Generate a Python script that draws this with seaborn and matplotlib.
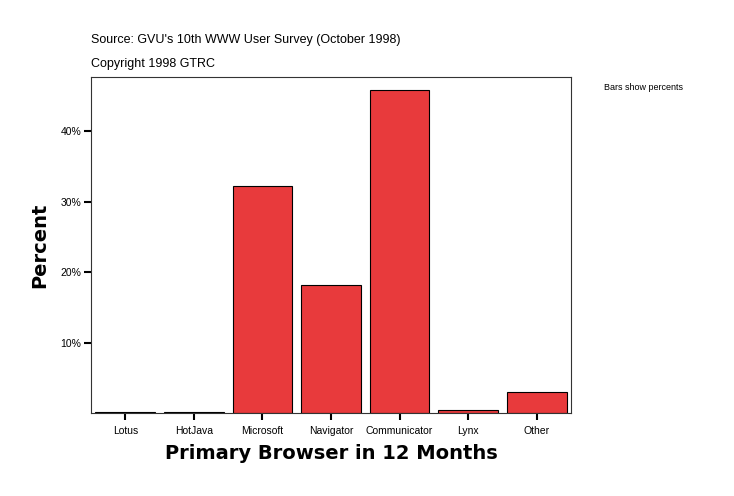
import matplotlib
matplotlib.use("Agg")
import matplotlib.pyplot as plt
import seaborn as sns
import pandas as pd

categories = ["Lotus", "HotJava", "Microsoft", "Navigator", "Communicator", "Lynx", "Other"]
percents = [0.15, 0.15, 32.2, 18.2, 45.9, 0.45, 3.0]
ytick_vals = [10, 20, 30, 40]
ytick_labels = ["10%", "20%", "30%", "40%"]

df = pd.DataFrame({"browser": categories, "pct": percents})

sns.set_style("white")
plt.rcParams["font.family"] = ["Liberation Sans", "DejaVu Sans"]
plt.rcParams["text.color"] = "black"
plt.rcParams["axes.labelcolor"] = "black"
plt.rcParams["xtick.color"] = "black"
plt.rcParams["ytick.color"] = "black"

fig = plt.figure(figsize=(7.34, 4.96), dpi=100)
ax = fig.add_axes([91/734, 1-413/496, 480/734, 336/496])

sns.barplot(data=df, x="browser", y="pct", color="#E83A3C", saturation=1,
            edgecolor="black", linewidth=0.8, width=0.87, ax=ax)

ax.set_ylim(0, 47.7)
ax.set_xlim(-0.5, 6.5)
ax.set_yticks(ytick_vals)
ax.set_yticklabels(ytick_labels, fontsize=7.5)
ax.tick_params(axis="x", bottom=True, labelsize=7.5, length=5, width=1.5,
               direction="out", pad=4, colors="black")
ax.tick_params(axis="y", left=True, length=5, width=1.5, direction="out",
               pad=2, colors="black")
for s in ax.spines.values():
    s.set_linewidth(0.8)
    s.set_color("#333333")

ax.set_xlabel("Primary Browser in 12 Months", fontsize=14, fontweight="heavy",
              family=["DejaVu Sans"], labelpad=6, color="black")
ax.set_ylabel("Percent", fontsize=14, fontweight="heavy", family=["DejaVu Sans"],
              labelpad=8, color="black")

fig.text(91/734, 1-40/496, "Source: GVU's 10th WWW User Survey (October 1998)", fontsize=9, va="center")
fig.text(91/734, 1-64/496, "Copyright 1998 GTRC", fontsize=9, va="center")
fig.text(604/734, 1-87/496, "Bars show percents", fontsize=6.5, va="center")

fig.savefig("out.png", dpi=100)
